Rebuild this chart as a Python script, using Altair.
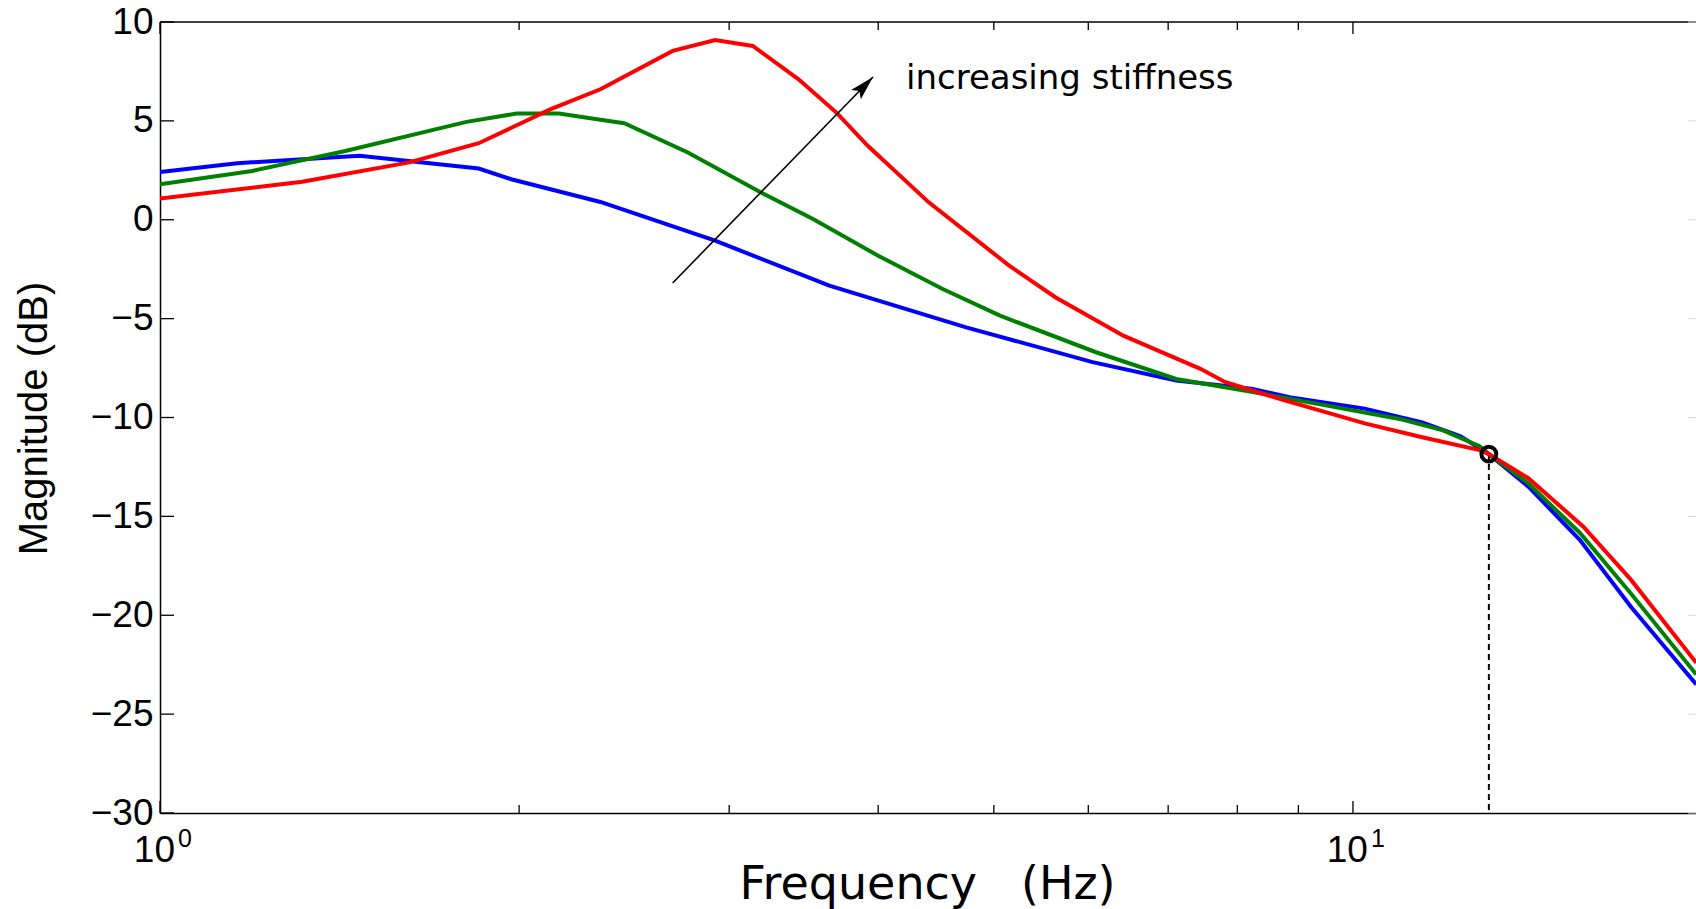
import altair as alt
import pandas as pd

W, H = 1536, 791
F_MAX = 19.39
FONT = "DejaVu Sans"
FONT2 = "Liberation Sans"

# ---- data ----
blue_f = [1.0, 1.161, 1.47, 1.85, 1.97, 2.34, 2.92, 3.64, 4.74, 6.05, 7.11, 8.22, 8.85, 10.23, 11.43, 12.31, 13.0, 14.03, 15.5, 17.1, 19.4]
blue_db = [2.42, 2.86, 3.23, 2.59, 2.05, 0.9, -1.06, -3.33, -5.44, -7.2, -8.13, -8.55, -8.97, -9.55, -10.25, -10.95, -11.85, -13.5, -16.2, -19.57, -23.5]

green_f = [1.0, 1.195, 1.43, 1.807, 1.99, 2.16, 2.34, 2.45, 2.77, 3.19, 3.53, 4.0, 4.53, 5.06, 6.09, 7.11, 8.22, 9.51, 11.0, 11.9, 12.77, 13.0, 14.03, 15.5, 17.1, 19.4]
green_db = [1.80, 2.47, 3.48, 4.95, 5.37, 5.37, 5.06, 4.88, 3.40, 1.38, 0.03, -1.82, -3.5, -4.85, -6.7, -8.05, -8.7, -9.4, -10.1, -10.65, -11.45, -11.85, -13.33, -15.84, -18.9, -23.0]

red_f = [1.0, 1.316, 1.618, 1.85, 2.126, 2.34, 2.69, 2.92, 3.14, 3.43, 3.69, 3.92, 4.41, 5.15, 5.63, 6.42, 7.45, 7.81, 8.72, 10.23, 11.43, 12.77, 13.0, 14.03, 15.6, 17.1, 19.4]
red_db = [1.08, 1.92, 2.9, 3.87, 5.59, 6.6, 8.54, 9.09, 8.79, 7.10, 5.42, 3.74, 0.88, -2.32, -3.92, -5.86, -7.54, -8.2, -9.1, -10.3, -11.0, -11.65, -11.85, -13.07, -15.52, -18.2, -22.4]

y_ticks = [-30, -25, -20, -15, -10, -5, 0, 5, 10]
x_major = [1, 10]
x_minor = [2, 3, 4, 5, 6, 7, 8, 9]
x_label_base = ["10", "10"]
x_label_sup = ["0", "1"]

marker_f = [13.0]
marker_db = [-11.85]

arrow_from_f, arrow_from_db = [2.69], [-3.2]
arrow_to_f, arrow_to_db = [3.96], [7.22]
note_f, note_db = [4.22], [6.6]
note_text = ["increasing stiffness"]

X_TITLE = "Frequency\u00a0\u00a0\u00a0(Hz)"
Y_TITLE = "Magnitude (dB)"

# ---- scales and shared axes ----
xs = alt.Scale(type="log", domain=[1, F_MAX], nice=False)
ys = alt.Scale(domain=[-30, 10], nice=False, zero=False)

XA = alt.Axis(title=X_TITLE, labels=False, ticks=False, tickSize=0,
              grid=False, domainColor="black", domainWidth=1.5,
              titleFont=FONT, titleFontSize=46, titleFontWeight="normal",
              titleColor="black", titleX=767, titleY=85,
              titleAlign="center", titleBaseline="alphabetic")
YA = alt.Axis(title=Y_TITLE, values=y_ticks, labelFont=FONT2,
              labelFontSize=37, labelColor="black", labelPadding=7,
              ticks=False, tickSize=0, grid=False, domainColor="black",
              domainWidth=1.5, titleFont=FONT2, titleFontSize=40,
              titleFontWeight="normal", titleColor="black", titleAngle=270,
              titleX=-126, titleY=396, titleAlign="center",
              titleBaseline="middle")


def X(field):
    return alt.X(field, type="quantitative", scale=xs, axis=XA, title=X_TITLE)


def Y(field):
    return alt.Y(field, type="quantitative", scale=ys, axis=YA, title=Y_TITLE)


def line(fs, dbs, color):
    df = pd.DataFrame({"f": fs, "db": dbs})
    return alt.Chart(df).mark_line(color=color, strokeWidth=4, clip=True).encode(
        x=X("f"), y=Y("db"))


yt = pd.DataFrame({"db": y_ticks})
ytick_left = alt.Chart(yt).mark_rule(color="black", strokeWidth=1.3).encode(
    y=Y("db"), x=alt.value(0), x2=alt.value(14))
ytick_right = alt.Chart(yt).mark_rule(color="#d8d8d8", strokeWidth=1).encode(
    y=Y("db"), x=alt.value(W - 8), x2=alt.value(W))

xmaj = pd.DataFrame({"f": x_major})
xmin = pd.DataFrame({"f": x_minor})
xt_layers = []
for d, ln in ((xmaj, 12), (xmin, 8)):
    xt_layers.append(alt.Chart(d).mark_rule(color="black", strokeWidth=1.3).encode(
        x=X("f"), y=alt.value(H), y2=alt.value(H - ln)))
    xt_layers.append(alt.Chart(d).mark_rule(color="black", strokeWidth=1.3).encode(
        x=X("f"), y=alt.value(0), y2=alt.value(ln)))

top_border = alt.Chart(pd.DataFrame({"a": [0]})).mark_rule(color="black", strokeWidth=1.5).encode(
    x=alt.value(0), x2=alt.value(W), y=alt.value(0))

xl = pd.DataFrame({"f": x_major, "db": [-30, -30], "base": x_label_base, "sup": x_label_sup})
xl_base = alt.Chart(xl).mark_text(font=FONT2, fontSize=37, align="right", baseline="alphabetic",
                                  dx=15, dy=49, color="black").encode(
    x=X("f"), y=Y("db"), text="base:N")
xl_sup = alt.Chart(xl).mark_text(font=FONT2, fontSize=25, align="left", baseline="alphabetic",
                                 dx=18, dy=34, color="black").encode(
    x=X("f"), y=Y("db"), text="sup:N")

mk = pd.DataFrame({"f": marker_f, "db": marker_db, "db2": [-30]})
dashed = alt.Chart(mk).mark_rule(color="black", strokeWidth=2, strokeDash=[6, 4]).encode(
    x=X("f"), y=Y("db"), y2="db2:Q")
marker = alt.Chart(mk).mark_point(shape="circle", filled=False, color="black", strokeWidth=4,
                                  size=220, opacity=1).encode(x=X("f"), y=Y("db"))

ar = pd.DataFrame({"f": arrow_from_f, "db": arrow_from_db, "f2": arrow_to_f, "db2": arrow_to_db})
arrow_line = alt.Chart(ar).mark_rule(color="black", strokeWidth=1.6).encode(
    x=X("f"), y=Y("db"), x2="f2:Q", y2="db2:Q")
arrow_head = alt.Chart(ar).mark_point(shape="M0,0L0.55,2L0,1.6L-0.55,2Z", filled=True,
                                      color="black", opacity=1, size=600, angle=44).encode(
    x=X("f2"), y=Y("db2"))

note = alt.Chart(pd.DataFrame({"f": note_f, "db": note_db, "t": note_text})).mark_text(
    font=FONT, fontSize=34, align="left", baseline="alphabetic", color="black").encode(
    x=X("f"), y=Y("db"), text="t:N")

chart = alt.layer(
    line(blue_f, blue_db, "#0000ff"),
    top_border, ytick_left, ytick_right, *xt_layers, dashed,
    line(green_f, green_db, "#008000"),
    line(red_f, red_db, "#ff0000"),
    marker, arrow_line, arrow_head, note, xl_base, xl_sup,
).properties(
    width=W, height=H,
    padding={"left": 160, "top": 22, "right": 0, "bottom": 96},
    autosize=alt.AutoSizeParams(type="none"),
    background="white",
).configure_view(stroke=None)

chart.save("out.html", embed_options={"renderer": "svg", "actions": False})
